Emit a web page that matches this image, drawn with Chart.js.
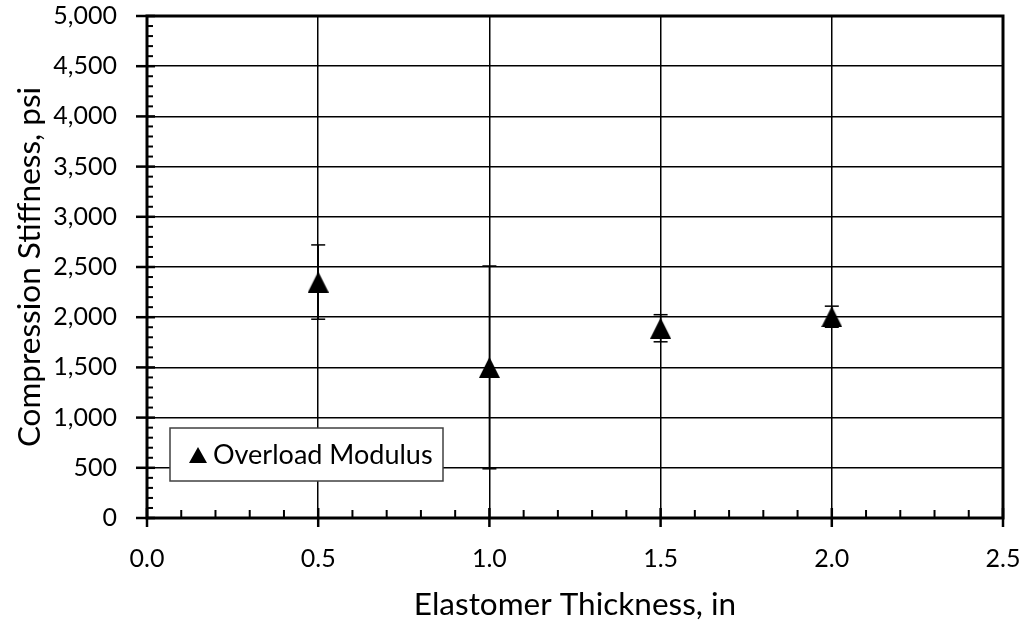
<!DOCTYPE html>
<html lang="en">
<head>
<meta charset="UTF-8">
<title>Compression Stiffness vs Elastomer Thickness</title>
<script src="https://cdn.jsdelivr.net/npm/chart.js"></script>
<style>
    html, body { margin: 0; padding: 0; background: #fff; }
    #stiffnessChart { display: block; }
</style>
</head>
<body>
<canvas id="stiffnessChart" width="1026" height="621"></canvas>
<script>
// Overload modulus results, mean and +/- error per thickness
const thickness = [0.5, 1.0, 1.5, 2.0];
const stiffness = [2350, 1500, 1890, 2005];
const stiffnessErr = [370, 1010, 135, 105];

const xTicks = [0.0, 0.5, 1.0, 1.5, 2.0, 2.5];
const yTicks = [0, 500, 1000, 1500, 2000, 2500, 3000, 3500, 4000, 4500, 5000];

const seriesName = 'Overload Modulus';
const FONT = 'Lato, "Open Sans", sans-serif';

// Filled triangle marker, centred on its bounding box
function triangleMarker(w, h) {
    const c = document.createElement('canvas');
    c.width = w;
    c.height = h;
    const g = c.getContext('2d');
    g.fillStyle = '#000';
    g.beginPath();
    g.moveTo(w / 2, 0);
    g.lineTo(w, h);
    g.lineTo(0, h);
    g.closePath();
    g.fill();
    return c;
}

function line(ctx, x1, y1, x2, y2) {
    ctx.beginPath();
    ctx.moveTo(x1, y1);
    ctx.lineTo(x2, y2);
    ctx.stroke();
}

const errorBars = {
    id: 'errorBars',
    beforeDatasetsDraw(chart) {
        const { ctx, scales: { x, y } } = chart;
        ctx.save();
        ctx.strokeStyle = '#000';
        ctx.lineWidth = 1.5;
        thickness.forEach((t, i) => {
            const px = x.getPixelForValue(t);
            const top = y.getPixelForValue(stiffness[i] + stiffnessErr[i]);
            const bot = y.getPixelForValue(stiffness[i] - stiffnessErr[i]);
            line(ctx, px, top, px, bot);
            line(ctx, px - 7, top, px + 7, top);
            line(ctx, px - 7, bot, px + 7, bot);
        });
        ctx.restore();
    }
};

// Frame, minor ticks and major tick marks crossing the axes
const axisFrame = {
    id: 'axisFrame',
    afterDatasetsDraw(chart) {
        const { ctx, chartArea: a, scales: { x, y } } = chart;
        ctx.save();
        ctx.strokeStyle = '#000';
        for (let i = 0; i <= 50; i++) {
            const py = y.getPixelForValue(i * 100);
            if (i % 5 === 0) {
                ctx.lineWidth = 2.5;
                line(ctx, a.left - 11, py, a.left + 8, py);
            } else {
                ctx.lineWidth = 2;
                line(ctx, a.left, py, a.left + 6, py);
            }
        }
        for (let i = 0; i <= 25; i++) {
            const px = x.getPixelForValue(i * 0.1);
            if (i % 5 === 0) {
                ctx.lineWidth = 2.5;
                line(ctx, px, a.bottom - 10, px, a.bottom + 9);
            } else {
                ctx.lineWidth = 2;
                line(ctx, px, a.bottom, px, a.bottom - 8);
            }
        }
        ctx.lineWidth = 3;
        ctx.strokeRect(a.left, a.top, a.right - a.left, a.bottom - a.top);
        ctx.restore();
    }
};

// Boxed legend sitting inside the plot area
const legendBox = {
    id: 'legendBox',
    afterDatasetsDraw(chart) {
        const { ctx } = chart;
        const bx = 170, by = 428, bw = 273, bh = 53;
        ctx.save();
        ctx.fillStyle = '#fff';
        ctx.fillRect(bx, by, bw, bh);
        ctx.strokeStyle = '#404040';
        ctx.lineWidth = 1.5;
        ctx.strokeRect(bx, by, bw, bh);
        ctx.drawImage(triangleMarker(18, 16), 189, 447);
        ctx.fillStyle = '#000';
        ctx.font = '27px ' + FONT;
        ctx.textBaseline = 'middle';
        ctx.fillText(seriesName, 213, by + bh / 2 + 1);
        ctx.restore();
    }
};

new Chart(document.getElementById('stiffnessChart'), {
    type: 'scatter',
    data: {
        datasets: [{
            label: seriesName,
            data: thickness.map((t, i) => ({ x: t, y: stiffness[i] })),
            pointStyle: triangleMarker(21, 21),
            pointRadius: 10,
            backgroundColor: '#000',
            borderColor: '#000'
        }]
    },
    options: {
        responsive: false,
        animation: false,
        layout: { padding: { left: 0, top: 16, right: 23, bottom: 0 } },
        plugins: {
            legend: { display: false },
            tooltip: { enabled: false }
        },
        scales: {
            x: {
                type: 'linear',
                min: 0,
                max: 2.5,
                afterFit(scale) {
                    scale.height = 103;
                    scale.paddingLeft = 0;
                    scale.paddingRight = 0;
                },
                afterBuildTicks(scale) { scale.ticks = xTicks.map(v => ({ value: v })); },
                grid: { color: '#000', lineWidth: 1.5, drawTicks: false },
                border: { display: false },
                ticks: {
                    padding: 26,
                    color: '#000',
                    font: { family: FONT, size: 25 },
                    callback: v => v.toFixed(1)
                },
                title: {
                    display: true,
                    text: 'Elastomer Thickness, in',
                    color: '#000',
                    font: { family: FONT, size: 31.5, lineHeight: 1 },
                    padding: { top: 0, bottom: 0 }
                }
            },
            y: {
                type: 'linear',
                min: 0,
                max: 5000,
                afterFit(scale) {
                    scale.width = 147;
                    scale.paddingTop = 0;
                    scale.paddingBottom = 0;
                },
                afterBuildTicks(scale) { scale.ticks = yTicks.map(v => ({ value: v })); },
                grid: { color: '#000', lineWidth: 1.5, drawTicks: false },
                border: { display: false },
                ticks: {
                    padding: 30,
                    color: '#000',
                    font: { family: FONT, size: 25 },
                    callback: v => v.toLocaleString('en-US')
                },
                title: {
                    display: true,
                    text: 'Compression Stiffness, psi',
                    color: '#000',
                    font: { family: FONT, size: 31.5, lineHeight: 1 },
                    padding: { top: 14, bottom: 0 }
                }
            }
        }
    },
    plugins: [errorBars, axisFrame, legendBox]
});
</script>
</body>
</html>
